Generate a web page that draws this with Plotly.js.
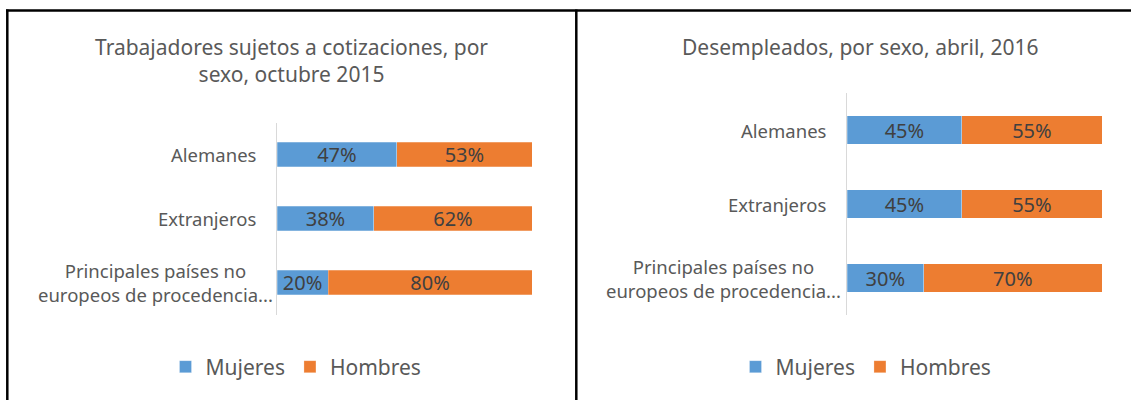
<!DOCTYPE html>
<html>
<head>
<meta charset="utf-8">
<script src="https://cdn.plot.ly/plotly-3.0.1.min.js"></script>
<style>html,body{margin:0;padding:0;background:#fff;}#chart{width:1131px;height:400px;}</style>
</head>
<body>
<div id="chart"></div>
<script>
// ---- data ----
const categories = ["Alemanes", "Extranjeros", "Principales países no<br>europeos de procedencia..."];
const seriesNames = ["Mujeres", "Hombres"];
const cotizMujeres = [47, 38, 20];
const cotizHombres = [53, 62, 80];
const desempMujeres = [45, 45, 30];
const desempHombres = [55, 55, 70];
const titleLeft = "Trabajadores sujetos a cotizaciones, por<br>sexo, octubre 2015";
const titleRight = "Desempleados, por sexo, abril, 2016";

const BLUE = "#5B9BD5", ORANGE = "#ED7D31";
const FONT = "Noto Sans, Open Sans, sans-serif";
const W = 1131, H = 400;
const px = v => v / W, py = v => 1 - v / H;

function bar(vals, name, color, xa, ya, leg, show) {
  return {
    type: "bar", orientation: "h", x: vals, y: categories, name: name,
    xaxis: xa, yaxis: ya, legend: leg, showlegend: show,
    marker: {color: color, line: {color: "rgba(255,255,255,0.5)", width: 0.5}},
    texttemplate: "%{x}%", textposition: "inside", insidetextanchor: "middle",
    textangle: 0, constraintext: "none",
    textfont: {family: FONT, size: 20, color: "#404040"},
    hoverinfo: "none"
  };
}

const data = [
  bar(cotizMujeres, seriesNames[0], BLUE, "x", "y", "legend", true),
  bar(cotizHombres, seriesNames[1], ORANGE, "x", "y", "legend", true),
  bar(desempMujeres, seriesNames[0], BLUE, "x2", "y2", "legend2", true),
  bar(desempHombres, seriesNames[1], ORANGE, "x2", "y2", "legend2", true)
];

const yBase = {type: "category", categoryorder: "array", categoryarray: categories,
  autorange: "reversed", showline: true, linecolor: "#d9d9d9", linewidth: 1,
  showgrid: false, zeroline: false, ticks: "", showticklabels: false, fixedrange: true};
const xBase = {range: [0, 100], visible: false, fixedrange: true};

// category label annotations
function catLabels(yref, axisPx, multiRight) {
  return categories.map((c, i) => ({
    text: c, xref: "paper", yref: yref, y: c,
    x: px(i === 2 ? multiRight : axisPx - 18), xanchor: "right", yanchor: "middle",
    align: "center", showarrow: false,
    font: {family: FONT, size: 18.5, color: "#595959"}
  }));
}

const layout = {
  width: W, height: H,
  margin: {l: 0, r: 0, t: 0, b: 0},
  paper_bgcolor: "#fff", plot_bgcolor: "#fff",
  barmode: "stack", bargap: 0.61,
  font: {family: FONT, color: "#595959"},
  xaxis: Object.assign({}, xBase, {domain: [px(277), px(532)], anchor: "y"}),
  yaxis: Object.assign({}, yBase, {domain: [py(314.5), py(122.5)], anchor: "x"}),
  xaxis2: Object.assign({}, xBase, {domain: [px(847), px(1102)], anchor: "y2"}),
  yaxis2: Object.assign({}, yBase, {domain: [py(315), py(93)], anchor: "x2"}),
  legend: {orientation: "h", x: px(296), xanchor: "center", y: py(367), yanchor: "middle",
    font: {family: FONT, size: 21, color: "#595959"}, bgcolor: "rgba(0,0,0,0)", traceorder: "normal"},
  legend2: {orientation: "h", x: px(866), xanchor: "center", y: py(367), yanchor: "middle",
    font: {family: FONT, size: 21, color: "#595959"}, bgcolor: "rgba(0,0,0,0)", traceorder: "normal"},
  annotations: [
    {text: titleLeft, xref: "paper", yref: "paper", x: px(291), y: py(61), xanchor: "center",
     yanchor: "middle", align: "center", showarrow: false,
     font: {family: FONT, size: 21, color: "#595959"}},
    {text: titleRight, xref: "paper", yref: "paper", x: px(860), y: py(47), xanchor: "center",
     yanchor: "middle", align: "center", showarrow: false,
     font: {family: FONT, size: 21, color: "#595959"}}
  ].concat(catLabels("y", 277, 275), catLabels("y2", 847, 843)),
  shapes: [
    {type: "line", xref: "paper", yref: "paper", x0: px(6), x1: 1, y0: py(10.5), y1: py(10.5), line: {color: "#000", width: 2.5}},
    {type: "line", xref: "paper", yref: "paper", x0: px(7.3), x1: px(7.3), y0: py(9.5), y1: 0, line: {color: "#000", width: 2.5}},
    {type: "line", xref: "paper", yref: "paper", x0: px(576.3), x1: px(576.3), y0: py(9.5), y1: 0, line: {color: "#000", width: 2.5}}
  ]
};

Plotly.newPlot("chart", data, layout, {displayModeBar: false, staticPlot: true});
</script>
</body>
</html>
